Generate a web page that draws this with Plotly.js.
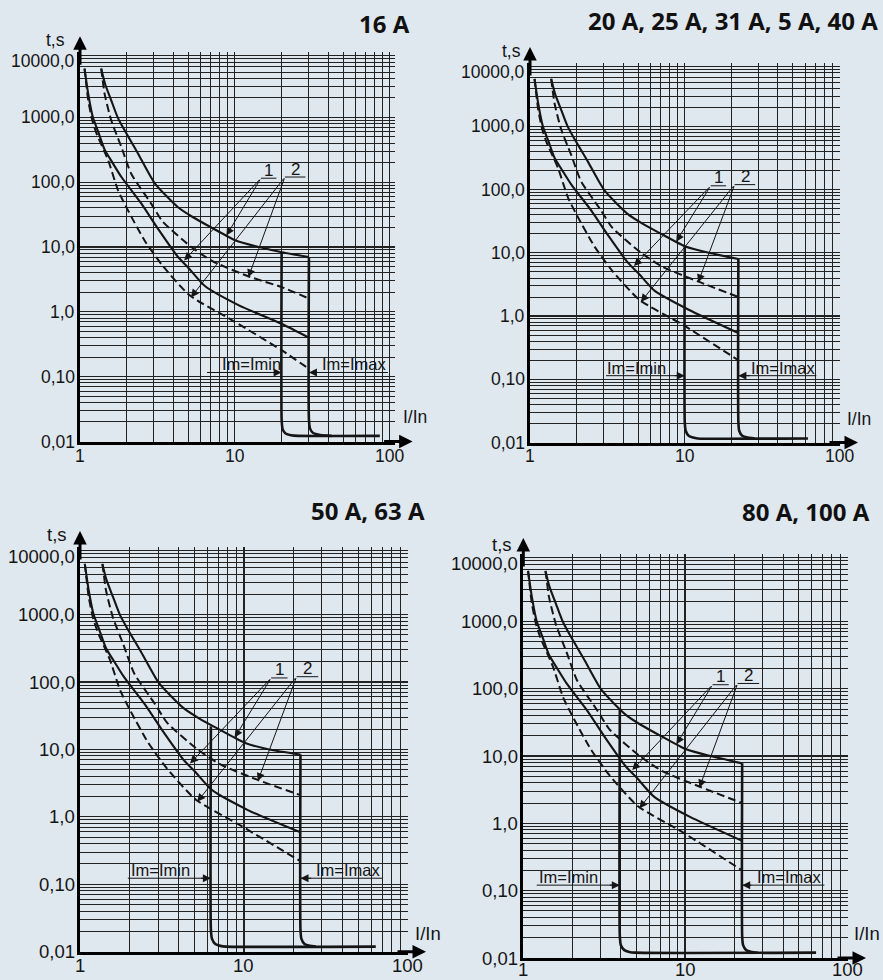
<!DOCTYPE html>
<html><head><meta charset="utf-8">
<script src="https://cdn.plot.ly/plotly-3.0.1.min.js"></script>
<style>html,body{margin:0;padding:0;background:#dfe7ef;}</style>
</head><body><div id="chart" style="width:883px;height:980px;"></div>
<script>
// ---------- data ----------
const panelTitles = ['16 A', '20 A, 25 A, 31 A, 5 A, 40 A', '50 A, 63 A', '80 A, 100 A'];
const yTickVals = [0.01, 0.1, 1, 10, 100, 1000, 10000];
const yTickText = ['0,01', '0,10', '1,0', '10,0', '100,0', '1000,0', '10000,0'];
const xTickVals = [1, 10, 100];
const xTickText = ['1', '10', '100'];

// curve 1 (solid) and curve 2 (dashed), common part for all ratings
const upperSolidX = [1.37, 1.45, 1.59, 1.75, 1.94, 2.37, 3.03, 4.29, 5.33, 7.03, 10.1, 14.3];
const upperSolidT = [5650, 3300, 1830, 1000, 630, 275, 97, 41, 29, 20, 12.6, 10];
const upperDashX  = [1.37, 1.40, 1.44, 1.59, 1.85, 2.14, 2.88, 3.4, 5.23, 7.2, 12.3];
const upperDashT  = [5650, 3800, 2320, 900, 348, 135, 46.6, 25, 10, 6.0, 3.5];
const lowerSolidX = [1.07, 1.13, 1.21, 1.31, 1.44, 1.62, 1.85, 2.49, 3.19, 4.29, 5.0, 6.4, 10.6];
const lowerSolidT = [5650, 2300, 1010, 600, 320, 200, 120, 46.6, 19, 7.0, 4.8, 2.5, 1.26];
const lowerDashX  = [1.07, 1.10, 1.13, 1.20, 1.28, 1.52, 1.76, 2.04, 2.61, 3.4, 5.1, 9.6];
const lowerDashT  = [5650, 3100, 1830, 900, 560, 217, 75, 36.7, 12.6, 5.2, 1.8, 0.74];

// curve ends per panel (up to Im=Imax)
const curveEndX      = [[20.1, 30], [22.2], [22.2], [22.4]];
const upperSolidEnd  = [[8.3, 7.0], [8.0], [8.4], [7.8]];
const upperDashEnd   = [[2.4, 1.6], [2.0], [2.1], [2.0]];
const lowerSolidEnd  = [[0.65, 0.40], [0.54], [0.59], [0.55]];
const lowerDashEnd   = [[0.254, 0.132], [0.20], [0.22], [0.20]];

// instantaneous trip lines (Im=Imin and Im=Imax)
const iminX = [
  [20, 20, 20.3, 21.2, 23, 25.7, 86],
  [10, 10, 10.15, 10.6, 11.3, 12.1, 62.5],
  [6.3, 6.3, 6.4, 6.7, 7.2, 7.8, 64],
  [3.94, 3.94, 4.0, 4.2, 4.5, 4.9, 64]];
const iminT = [
  [8.3, 0.022, 0.0155, 0.0133, 0.0125, 0.0122, 0.0122],
  [12.9, 0.021, 0.0152, 0.0128, 0.012, 0.0116, 0.0116],
  [22, 0.021, 0.0155, 0.013, 0.0122, 0.0119, 0.0119],
  [51, 0.021, 0.0155, 0.0131, 0.0123, 0.012, 0.012]];
const imaxX = [
  [30, 30, 30.5, 32, 35.5, 42],
  [22.2, 22.2, 22.5, 23.5, 25.5, 28.3],
  [22.2, 22.2, 22.5, 23.5, 25.3, 27.6],
  [22.4, 22.4, 22.7, 23.7, 25.6, 28]];
const imaxT = [
  [7.0, 0.022, 0.0158, 0.0135, 0.0126, 0.0122],
  [8.0, 0.021, 0.0152, 0.0128, 0.012, 0.0116],
  [8.4, 0.021, 0.0155, 0.013, 0.0122, 0.0119],
  [7.8, 0.021, 0.0155, 0.0131, 0.0123, 0.012]];

// ---------- layout helpers ----------
const bg = '#dfe7ef';
const ink = '#151515';
const gridCol = '#222';
const W = 883, H = 980;
function px(x) { return x / W; }
function py(y) { return 1 - y / H; }
const L = Math.log10;

const panels = [
  {xd: [80, 394.6], xr: [0, 2.03], yd: [441.5, 52.3], fs: 17.5, xgw: 1, xls: -14,
   title: {x: 412, y: 24}, ts: {x: 55, y: 40}, iin: {x: 415, y: 417},
   iminFrom: 6.6, iminTail: 17.5, iminText: 12.7, imaxTo: 97, imaxTail: 36, imaxText: 59, lvl: 0.116},
  {xd: [530, 840], xr: [0, 2.003], yd: [442.5, 63], fs: 17.5, xgw: 1, xls: -14,
   title: {x: 880, y: 20}, ts: {x: 511, y: 51}, iin: {x: 859, y: 419},
   iminFrom: 3.1, iminTail: 8.4, iminText: 4.87, imaxTo: 70.8, imaxTail: 26.9, imaxText: 42.9, lvl: 0.114},
  {xd: [80, 408], xr: [0, 2.003], yd: [951.7, 547], fs: 18.5, xgw: 2, xls: -14,
   title: {x: 427, y: 510}, ts: {x: 57, y: 534}, iin: {x: 428, y: 933},
   iminFrom: 1.96, iminTail: 5.37, iminText: 3.1, imaxTo: 70.4, imaxTail: 26.4, imaxText: 43.5, lvl: 0.123},
  {xd: [523.3, 848], xr: [0, 2.003], yd: [958, 554], fs: 18.5, xgw: 2, xls: -11,
   title: {x: 872, y: 511}, ts: {x: 502, y: 544}, iin: {x: 867, y: 933},
   iminFrom: 1.21, iminTail: 3.34, iminText: 1.89, imaxTo: 72, imaxTail: 26.1, imaxText: 43.3, lvl: 0.121}
];

const traces = [];
const annotations = [];
const layout = {
  width: W, height: H, margin: {l: 0, r: 0, t: 0, b: 0},
  paper_bgcolor: bg, plot_bgcolor: bg, showlegend: false,
  font: {family: 'Liberation Sans, Arial, sans-serif', color: ink},
  annotations: annotations
};

const solid = {color: ink, width: 2.1, shape: 'spline', smoothing: 0.6};
const dashed = {color: ink, width: 2, shape: 'spline', smoothing: 0.6, dash: '8px,4px'};
const trip = {color: ink, width: 2.6, shape: 'spline', smoothing: 0.5};
const thin = {color: ink, width: 1};

panels.forEach((p, i) => {
  const n = i === 0 ? '' : String(i + 1);
  const xa = 'x' + n, ya = 'y' + n;
  const common = {
    type: 'log', tickmode: 'array', showticklabels: false, ticks: '',
    showgrid: true, gridcolor: gridCol,
    minor: {showgrid: true, dtick: 'D1', gridcolor: gridCol, gridwidth: 1},
    showline: true, linecolor: '#000', linewidth: 3, zeroline: false, fixedrange: true
  };
  layout['xaxis' + n] = Object.assign({}, common, {gridwidth: p.xgw,
    domain: [px(p.xd[0]), px(p.xd[1])], range: p.xr, anchor: ya, tickvals: xTickVals});
  layout['yaxis' + n] = Object.assign({}, common, {gridwidth: 1.2,
    domain: [py(p.yd[0]), py(p.yd[1])], range: [-2, 4.003], anchor: xa, tickvals: yTickVals});

  // tick labels
  xTickVals.forEach((v, k) => annotations.push({xref: xa, yref: ya + ' domain', x: L(v), y: 0,
    text: xTickText[k], showarrow: false, xanchor: 'center', yanchor: 'middle', yshift: p.xls,
    font: {size: p.fs, color: ink}}));
  yTickVals.forEach((v, k) => annotations.push({xref: xa + ' domain', yref: ya, x: 0, y: L(v),
    text: yTickText[k], showarrow: false, xanchor: 'right', yanchor: 'middle', xshift: -4,
    borderpad: 0, yshift: k === yTickVals.length - 1 ? -9 : 0, font: {size: p.fs, color: ink}}));

  const add = (x, y, line) => traces.push({type: 'scatter', mode: 'lines', x: x, y: y,
    xaxis: xa, yaxis: ya, line: line, hoverinfo: 'skip'});

  add(upperSolidX.concat(curveEndX[i]), upperSolidT.concat(upperSolidEnd[i]), solid);
  add(upperDashX.concat(curveEndX[i]), upperDashT.concat(upperDashEnd[i]), dashed);
  add(lowerSolidX.concat(curveEndX[i]), lowerSolidT.concat(lowerSolidEnd[i]), solid);
  add(lowerDashX.concat(curveEndX[i]), lowerDashT.concat(lowerDashEnd[i]), dashed);
  add(iminX[i], iminT[i], trip);
  add(imaxX[i], imaxT[i], trip);

  // reference labels 1 and 2 with leader lines
  const tail1 = [14.7, 115], tail2 = [21, 120];
  add([tail1[0], 18.5], [tail1[1], tail1[1]], thin);
  add([tail2[0], 28.5], [tail2[1], tail2[1]], thin);
  const leaders = [[tail1, [8.8, 15]], [tail1, [4.7, 6.2]], [tail2, [12.2, 3.4]], [tail2, [5.2, 1.67]]];
  leaders.forEach(([t, h]) => annotations.push({
    xref: xa, yref: ya, axref: xa, ayref: ya, x: L(h[0]), y: L(h[1]), ax: L(t[0]), ay: L(t[1]),
    text: '', showarrow: true, arrowhead: 2, arrowsize: 1.6, arrowwidth: 1, arrowcolor: ink
  }));
  annotations.push({xref: xa, yref: ya, x: L(16.5), y: L(tail1[1]), text: '1', showarrow: false,
    yanchor: 'middle', yshift: 8, font: {size: 17, color: ink}});
  annotations.push({xref: xa, yref: ya, x: L(24.5), y: L(tail2[1]), text: '2', showarrow: false,
    yanchor: 'middle', yshift: 8, font: {size: 17, color: ink}});

  // Im=Imin / Im=Imax labels
  const imin = iminX[i][0], imax = imaxX[i][0];
  add([p.iminFrom, imin], [p.lvl, p.lvl], thin);
  add([imax, p.imaxTo], [p.lvl, p.lvl], thin);
  annotations.push({xref: xa, yref: ya, axref: xa, ayref: ya, x: L(imin), y: L(p.lvl),
    ax: L(p.iminTail), ay: L(p.lvl), text: '', showarrow: true, arrowhead: 2, arrowsize: 1.6,
    arrowwidth: 1, arrowcolor: ink});
  annotations.push({xref: xa, yref: ya, axref: xa, ayref: ya, x: L(imax), y: L(p.lvl),
    ax: L(p.imaxTail), ay: L(p.lvl), text: '', showarrow: true, arrowhead: 2, arrowsize: 1.6,
    arrowwidth: 1, arrowcolor: ink});
  annotations.push({xref: xa, yref: ya, x: L(p.iminText), y: L(p.lvl), text: 'Im=Imin',
    showarrow: false, yanchor: 'middle', yshift: 8, font: {size: 16.5, color: ink}});
  annotations.push({xref: xa, yref: ya, x: L(p.imaxText), y: L(p.lvl), text: 'Im=Imax',
    showarrow: false, yanchor: 'middle', yshift: 8, font: {size: 16.5, color: ink}});

  // axis arrows
  annotations.push({xref: xa + ' domain', yref: ya + ' domain', x: 0, y: 1, yshift: 16,
    ax: 0, ay: 30, text: '', showarrow: true, arrowhead: 2, arrowsize: 0.9, arrowwidth: 3, arrowcolor: '#000'});
  annotations.push({xref: xa + ' domain', yref: ya + ' domain', x: 1, y: 0, xshift: 18,
    ax: -30, ay: 0, text: '', showarrow: true, arrowhead: 2, arrowsize: 0.9, arrowwidth: 3, arrowcolor: '#000'});

  // axis names and panel title
  annotations.push({xref: 'paper', yref: 'paper', x: px(p.ts.x), y: py(p.ts.y), text: 't,s',
    showarrow: false, xanchor: 'center', yanchor: 'middle', borderpad: 0, font: {size: p.fs, color: ink}});
  annotations.push({xref: 'paper', yref: 'paper', x: px(p.iin.x), y: py(p.iin.y), text: 'I/In',
    showarrow: false, xanchor: 'center', yanchor: 'middle', font: {size: p.fs, color: ink}});
  annotations.push({xref: 'paper', yref: 'paper', x: px(p.title.x), y: py(p.title.y), text: '<b>' + panelTitles[i] + '</b>',
    showarrow: false, xanchor: 'right', yanchor: 'middle',
    font: {family: 'Open Sans, Noto Sans, sans-serif', size: 24, color: '#111'}});
});

Plotly.newPlot('chart', traces, layout, {displayModeBar: false, staticPlot: true});
</script>
</body></html>
